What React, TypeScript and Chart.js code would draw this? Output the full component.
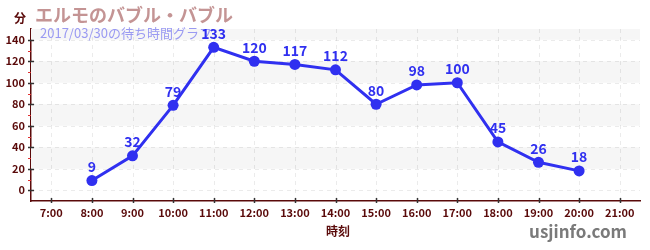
import React, { useEffect, useRef } from "react";
import { Chart, registerables } from "chart.js";

Chart.register(...registerables);

const hours = ["7:00", "8:00", "9:00", "10:00", "11:00", "12:00", "13:00", "14:00", "15:00", "16:00", "17:00", "18:00", "19:00", "20:00", "21:00"];
const waitMinutes: (number | null)[] = [null, 9, 32, 79, 133, 120, 117, 112, 80, 98, 100, 45, 26, 18, null];
const yTicks = [0, 20, 40, 60, 80, 100, 120, 140];
const minorTicks = [10, 30, 50, 70, 90, 110, 130];
const bandRanges = [[20, 40], [60, 80], [100, 120], [140, 150]];

const titleText = "エルモのバブル・バブル";
const subtitleText = "2017/03/30の待ち時間グラフ";
const unitText = "分";
const xTitleText = "時刻";
const creditText = "usjinfo.com";

const FONT = '"Noto Sans CJK JP", "Noto Sans", sans-serif';
const MAROON = "#5a0a0a";
const BLUE = "#3030f0";

export default function App() {
  const ref = useRef<HTMLCanvasElement | null>(null);
  useEffect(() => {
    document.body.style.margin = "0";
    const canvas = ref.current!;
    const decor = {
      id: "decor",
      beforeDatasetsDraw(chart: any) {
        const { ctx, chartArea, scales } = chart;
        const y = scales.y;
        ctx.save();
        ctx.fillStyle = "#f6f6f6";
        for (const [a, b] of bandRanges) {
          const top = Math.max(y.getPixelForValue(b), chartArea.top);
          const bot = y.getPixelForValue(a);
          ctx.fillRect(chartArea.left, top, chartArea.right - chartArea.left, bot - top);
        }
        ctx.strokeStyle = "rgba(0,0,0,0.08)";
        ctx.lineWidth = 1;
        ctx.setLineDash([4, 4]);
        for (const v of yTicks) {
          const py = Math.round(y.getPixelForValue(v)) + 0.5;
          ctx.beginPath();
          ctx.moveTo(chartArea.left, py);
          ctx.lineTo(chartArea.right, py);
          ctx.stroke();
        }
        const x = scales.x;
        for (let i = 0; i < hours.length; i++) {
          const px = Math.round(x.getPixelForValue(i)) + 0.5;
          ctx.beginPath();
          ctx.moveTo(px, chartArea.top);
          ctx.lineTo(px, chartArea.bottom);
          ctx.stroke();
        }
        ctx.setLineDash([]);
        ctx.font = `13px ${FONT}`;
        ctx.fillStyle = "#9a9af2";
        ctx.textBaseline = "middle";
        ctx.textAlign = "left";
        ctx.fillText(subtitleText, 40, 33);
        ctx.restore();
      },
      afterDatasetsDraw(chart: any) {
        const { ctx, scales, chartArea } = chart;
        const meta = chart.getDatasetMeta(0);
        ctx.save();
        ctx.font = `bold 14px ${FONT}`;
        ctx.fillStyle = BLUE;
        ctx.textAlign = "center";
        ctx.textBaseline = "middle";
        meta.data.forEach((pt: any, i: number) => {
          const v = waitMinutes[i];
          if (v === null) return;
          ctx.fillText(String(v), pt.x, pt.y - 14);
        });
        const y = scales.y;
        const left = chartArea.left;
        ctx.strokeStyle = "#333";
        ctx.lineWidth = 1.5;
        for (const v of yTicks) {
          const py = Math.round(y.getPixelForValue(v)) + 0.5;
          ctx.beginPath();
          ctx.moveTo(left - 3, py);
          ctx.lineTo(left + 3, py);
          ctx.stroke();
        }
        ctx.strokeStyle = "#e03030";
        ctx.lineWidth = 1;
        for (const v of minorTicks) {
          const py = Math.round(y.getPixelForValue(v)) + 0.5;
          ctx.beginPath();
          ctx.moveTo(left - 3, py);
          ctx.lineTo(left, py);
          ctx.stroke();
        }
        const x = scales.x;
        ctx.strokeStyle = "#333";
        ctx.lineWidth = 1.5;
        for (let i = 0; i < hours.length; i++) {
          const px = Math.round(x.getPixelForValue(i)) + 0.5;
          ctx.beginPath();
          ctx.moveTo(px, chartArea.bottom - 3);
          ctx.lineTo(px, chartArea.bottom + 2);
          ctx.stroke();
        }
        ctx.textBaseline = "middle";
        ctx.textAlign = "left";
        ctx.font = `bold 18px ${FONT}`;
        ctx.fillStyle = "#c49494";
        ctx.fillText(titleText, 35, 15);
        ctx.font = `bold 12px ${FONT}`;
        ctx.fillStyle = MAROON;
        ctx.fillText(unitText, 14, 18);
        ctx.textAlign = "center";
        ctx.font = `bold 12px ${FONT}`;
        ctx.fillText(xTitleText, 338, 231);
        ctx.font = `bold 17px ${FONT}`;
        ctx.fillStyle = "#7a7a7a";
        ctx.fillText(creditText, 578, 232);
        ctx.restore();
      },
    };
    const chart = new Chart(canvas, {
      type: "line",
      data: {
        labels: hours,
        datasets: [
          {
            data: waitMinutes,
            borderColor: BLUE,
            backgroundColor: BLUE,
            borderWidth: 3,
            pointRadius: 5.5,
            pointHoverRadius: 5.5,
            pointBackgroundColor: BLUE,
            pointBorderColor: BLUE,
            pointBorderWidth: 0,
            tension: 0,
            spanGaps: false,
          },
        ],
      },
      options: {
        animation: false,
        responsive: false,
        maintainAspectRatio: false,
        events: [],
        layout: { padding: { top: 29, right: 10, left: 0, bottom: 0 } },
        plugins: { legend: { display: false }, tooltip: { enabled: false }, title: { display: false } },
        scales: {
          x: {
            type: "category",
            offset: true,
            grid: { display: false, drawTicks: false },
            border: { color: MAROON, width: 1.5 },
            ticks: { color: MAROON, font: { family: FONT, size: 11, weight: "bold" }, padding: 5, maxRotation: 0, autoSkip: false },
            afterFit(s: any) { s.height = 49; },
          },
          y: {
            min: -10,
            max: 150,
            afterBuildTicks(s: any) { s.ticks = yTicks.map((v) => ({ value: v })); },
            grid: { display: false, drawTicks: false },
            border: { color: MAROON, width: 1.5 },
            ticks: { color: MAROON, font: { family: FONT, size: 11, weight: "bold" }, padding: 6 },
            afterFit(s: any) { s.width = 31; },
          },
        },
      },
      plugins: [decor],
    } as any);
    return () => chart.destroy();
  }, []);
  return (
    <div style={{ width: 650, height: 250 }}>
      <canvas ref={ref} width={650} height={250} style={{ display: "block" }} />
    </div>
  );
}
